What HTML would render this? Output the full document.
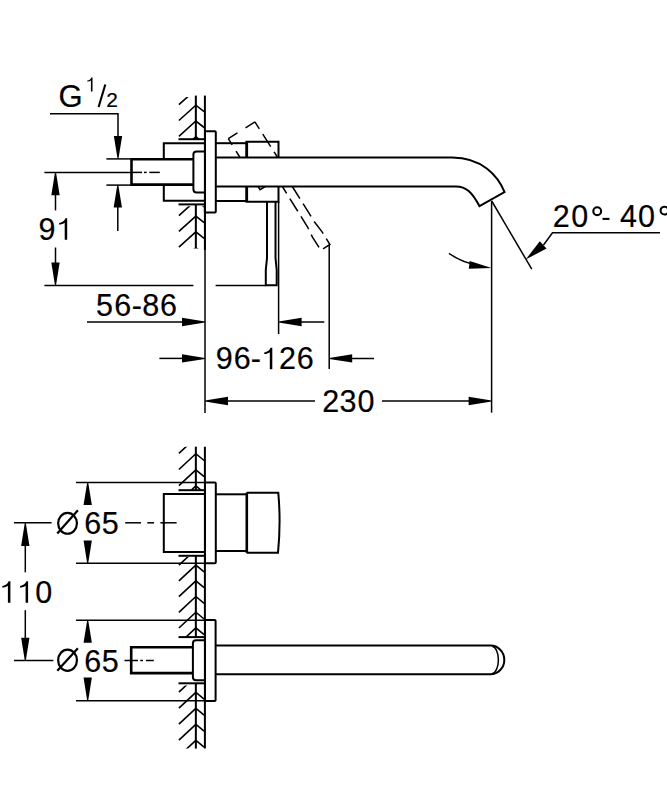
<!DOCTYPE html>
<html><head><meta charset="utf-8">
<style>
html,body{margin:0;padding:0;background:#fff;}
svg{display:block;}
text{font-family:"Liberation Sans",sans-serif;fill:#000;}
</style></head>
<body>
<svg width="667" height="800" viewBox="0 0 667 800">
<defs>
<clipPath id="h1"><rect x="170" y="97.0" width="34.2" height="42.2"/></clipPath>
<clipPath id="h2"><rect x="170" y="206.2" width="34.2" height="42.3"/></clipPath>
<clipPath id="h3"><rect x="170" y="446.7" width="34.2" height="43.5"/></clipPath>
<clipPath id="h4"><rect x="170" y="557.0" width="34.2" height="80.1"/></clipPath>
<clipPath id="h5"><rect x="170" y="685.5" width="34.2" height="63.1"/></clipPath>
</defs>
<g fill="none" stroke="#000" stroke-linecap="butt">
<!-- ================= TOP DRAWING ================= -->
<!-- thin dimension lines -->
<g stroke-width="1.5">
<polyline points="50,113.8 118,113.8 118,140"/>
<line x1="106.4" y1="158.9" x2="131" y2="158.9"/>
<line x1="106.4" y1="185.1" x2="131" y2="185.1"/>
<line x1="117.8" y1="200" x2="117.8" y2="231"/>
<line x1="44.4" y1="172.4" x2="131" y2="172.4"/>
<line x1="55.5" y1="190" x2="55.5" y2="210.4"/>
<line x1="55.5" y1="247.5" x2="55.5" y2="270"/>
<line x1="44.4" y1="285.5" x2="193.4" y2="285.5"/>
<line x1="215.6" y1="285.5" x2="266" y2="285.5"/>
<line x1="87" y1="322" x2="190" y2="322"/>
<line x1="205" y1="212" x2="205" y2="413"/>
<line x1="278.6" y1="201.7" x2="278.6" y2="334"/>
<line x1="290" y1="322" x2="324.3" y2="322"/>
<line x1="329.2" y1="245" x2="329.2" y2="369"/>
<line x1="159.4" y1="358.4" x2="190" y2="358.4"/>
<line x1="340" y1="358.4" x2="374" y2="358.4"/>
<line x1="215" y1="401" x2="315" y2="401"/>
<line x1="382" y1="401" x2="480" y2="401"/>
<line x1="491.6" y1="201" x2="491.6" y2="412.6"/>
<line x1="491.7" y1="201" x2="531.8" y2="269.2"/>
<path d="M449,253.4 A66.5,66.5 0 0 0 478,265"/>
<polyline points="543.5,245 552.5,232.7 660,232.7"/>
</g>
</g>
<!-- thick outlines top -->
<g clip-path="url(#h1)" fill="none" stroke="#000" stroke-width="1.6"><polyline points="178.9,104.7 195.85,89.4 204.1,95.9"/><polyline points="178.9,120.5 195.85,105.2 204.1,111.7"/><polyline points="178.9,136.3 195.85,121.0 204.1,127.5"/><polyline points="178.9,152.1 195.85,136.8 204.1,143.3"/></g>
<g clip-path="url(#h2)" fill="none" stroke="#000" stroke-width="1.6"><polyline points="178.9,215.6 195.85,200.3 204.1,206.8"/><polyline points="178.9,231.4 195.85,216.1 204.1,222.6"/><polyline points="178.9,247.2 195.85,231.9 204.1,238.4"/><polyline points="178.9,263.0 195.85,247.7 204.1,254.2"/></g>
<g clip-path="url(#h3)" fill="none" stroke="#000" stroke-width="1.6"><polyline points="178.9,453.4 195.85,437.6 204.1,444.4"/><polyline points="178.9,469.5 195.85,453.7 204.1,460.5"/><polyline points="178.9,485.6 195.85,469.8 204.1,476.6"/><polyline points="178.9,501.7 195.85,485.9 204.1,492.7"/></g>
<g clip-path="url(#h4)" fill="none" stroke="#000" stroke-width="1.6"><polyline points="178.9,565.2 195.85,549.4 204.1,556.2"/><polyline points="178.9,580.9 195.85,565.1 204.1,571.9"/><polyline points="178.9,596.6 195.85,580.8 204.1,587.6"/><polyline points="178.9,612.3 195.85,596.5 204.1,603.3"/><polyline points="178.9,628.0 195.85,612.2 204.1,619.0"/><polyline points="178.9,643.7 195.85,627.9 204.1,634.7"/><polyline points="178.9,659.4 195.85,643.6 204.1,650.4"/></g>
<g clip-path="url(#h5)" fill="none" stroke="#000" stroke-width="1.6"><polyline points="178.9,692.1 195.85,676.3 204.1,683.1"/><polyline points="178.9,708.1 195.85,692.3 204.1,699.1"/><polyline points="178.9,724.1 195.85,708.3 204.1,715.1"/><polyline points="178.9,740.1 195.85,724.3 204.1,731.1"/><polyline points="178.9,756.1 195.85,740.3 204.1,747.1"/><polyline points="178.9,772.1 195.85,756.3 204.1,763.1"/></g>
<g fill="none" stroke="#000" stroke-width="2" stroke-linejoin="miter">
<!-- wall upper -->
<line x1="195.85" y1="95.6" x2="195.85" y2="139"/>
<line x1="204.9" y1="95.6" x2="204.9" y2="212"/>
<line x1="178.5" y1="139.2" x2="204.9" y2="139.2"/>
<!-- wall lower -->
<line x1="195.85" y1="204.4" x2="195.85" y2="248"/>
<line x1="204.9" y1="204" x2="204.9" y2="250"/>
<line x1="178.5" y1="204.4" x2="204.9" y2="204.4"/>
<!-- body -->
<polyline points="205,143.2 163.8,143.2 163.8,159.3"/>
<polyline points="205,200.8 163.8,200.8 163.8,184.7"/>
<path d="M205,151.4 H196.6 Q193.4,151.4 193.4,154.6 V189.2 Q193.4,192.4 196.6,192.4 H205"/>
<rect x="205" y="131.3" width="10.8" height="81.1" rx="1"/>
<line x1="215.8" y1="143.2" x2="246.5" y2="143.2"/>
<line x1="215.8" y1="201" x2="246.5" y2="201"/>
<polyline points="246.5,157.5 246.5,141.7 278.5,141.7 278.5,157.5"/>
<polyline points="246.5,186.4 246.5,201.7 278.5,201.7 278.5,186.4"/>
<path d="M215.8,157.5 H452.2 C482,157.5 498,176 504.5,192 L479.5,206.2 C472,192 466,186.4 456,186.4 H215.8"/>
<path d="M267,201.7 V258 L265.8,270 V285.3 H276.7 V270 L275.5,258 V201.7"/>
</g>
<g fill="none" stroke="#000" stroke-width="2.6">
<polyline points="193.5,159.3 131.5,159.3 131.5,184.6 193.5,184.6"/>
<line x1="246.8" y1="141.7" x2="246.8" y2="157.5"/>
<line x1="246.8" y1="186.4" x2="246.8" y2="201.7"/>
</g>
<g fill="none" stroke="#000" stroke-width="1.5">
<line x1="131" y1="172.4" x2="142" y2="172.4"/>
<line x1="144" y1="172.4" x2="146.7" y2="172.4"/>
<line x1="149.3" y1="172.4" x2="159.8" y2="172.4"/>
</g>
<!-- dashed rotated handle -->
<g fill="none" stroke="#000" stroke-width="1.5">
<polyline points="228.3,138.7 254.9,121.9" stroke-dasharray="10.8,9.6,12"/>
<polyline points="254.9,121.9 277.7,157.5" stroke-dasharray="8.2,6.4,14.7,6.2,20"/>
<polyline points="228.3,138.7 240,157.5" stroke-dasharray="7.3,7.4,10"/>
<polyline points="258.1,186.5 260.1,189.7 265.2,186.5"/>
<polyline points="282.3,186.5 307.3,226.5 312.6,237.4 320.9,250.3 329.9,244.5 321.9,231.6 314.5,222 292.3,186.5" stroke-dasharray="15,6" stroke-dashoffset="6.8"/>
</g>
<!-- arrowheads -->
<g fill="#000" stroke="none">
<polygon points="117.50,158.50 113.85,136.00 122.15,136.00 118.50,158.50"/>
<polygon points="118.30,185.10 121.95,207.60 113.65,207.60 117.30,185.10"/>
<polygon points="56.00,172.20 59.65,195.20 51.35,195.20 55.00,172.20"/>
<polygon points="55.00,285.50 51.35,262.50 59.65,262.50 56.00,285.50"/>
<polygon points="205.00,322.50 182.00,326.15 182.00,317.85 205.00,321.50"/>
<polygon points="278.60,321.50 301.60,317.85 301.60,326.15 278.60,322.50"/>
<polygon points="205.00,358.90 182.00,362.55 182.00,354.25 205.00,357.90"/>
<polygon points="329.20,357.90 352.20,354.25 352.20,362.55 329.20,358.90"/>
<polygon points="205.00,400.50 228.00,396.85 228.00,405.15 205.00,401.50"/>
<polygon points="491.60,401.50 468.60,405.15 468.60,396.85 491.60,400.50"/>
<polygon points="491.6,268 469.7,261 468.8,268.8"/>
<polygon points="525.7,259.5 539.8,241.3 546.5,248.5"/>
</g>
<!-- text -->
<!-- ================= BOTTOM DRAWING ================= -->
<g fill="none" stroke="#000" stroke-width="2">
<line x1="195.85" y1="446.7" x2="195.85" y2="490.2"/>
<line x1="195.85" y1="555.8" x2="195.85" y2="637.1"/>
<line x1="195.85" y1="683.3" x2="195.85" y2="748.6"/>
<line x1="204.9" y1="446.7" x2="204.9" y2="748.6"/>
<line x1="178.5" y1="490.2" x2="204.9" y2="490.2"/>
<line x1="178.5" y1="555.8" x2="204.9" y2="555.8"/>
<line x1="178.5" y1="637.1" x2="204.9" y2="637.1"/>
<line x1="178.5" y1="683.3" x2="204.9" y2="683.3"/>
<polyline points="205,494 163.8,494 163.8,552 205,552"/>
<rect x="205" y="482.5" width="10.8" height="80.7" rx="1"/>
<line x1="215.8" y1="494.3" x2="246.5" y2="494.3"/>
<line x1="215.8" y1="551" x2="246.5" y2="551"/>
<path d="M246.5,492.8 H278.3 Q281,522.8 278,552.8 H246.5"/>
<rect x="205" y="620" width="10.6" height="81" rx="1"/>
<path d="M205,640.2 H196.1 Q192.9,640.2 192.9,643.4 V677.1 Q192.9,680.3 196.1,680.3 H205"/>
<path d="M215.6,645.6 H490.5 A13.8,14.3 0 0 1 490.5,674.2 H215.6"/>
<path d="M492.4,646.2 A6.8,13.8 0 0 1 492.4,673.6" stroke-width="1.5"/>
</g>
<g fill="none" stroke="#000" stroke-width="2.6">
<line x1="246.8" y1="492.8" x2="246.8" y2="552.8"/>
<polyline points="192.9,647.3 131.2,647.3 131.2,673.1 192.9,673.1"/>
</g>
<g fill="none" stroke="#000" stroke-width="1.5">
<line x1="76" y1="482.4" x2="205" y2="482.4"/>
<line x1="76" y1="563.2" x2="205" y2="563.2"/>
<line x1="76" y1="620.2" x2="205" y2="620.2"/>
<line x1="76" y1="700.8" x2="205" y2="700.8"/>
<line x1="14" y1="522.8" x2="51.6" y2="522.8"/>
<line x1="125.2" y1="522.8" x2="141" y2="522.8"/>
<line x1="147.3" y1="522.8" x2="154.1" y2="522.8"/>
<line x1="160.4" y1="522.8" x2="176.6" y2="522.8"/>
<line x1="14" y1="660.5" x2="53.4" y2="660.5"/>
<line x1="124.5" y1="660.5" x2="138" y2="660.5"/>
<line x1="140.2" y1="660.5" x2="143" y2="660.5"/>
<line x1="146" y1="660.5" x2="153.8" y2="660.5"/>
<line x1="25.3" y1="540" x2="25.3" y2="572.3"/>
<line x1="25.3" y1="610.2" x2="25.3" y2="641"/>
</g>
<g fill="#000" stroke="none">
<polygon points="88.20,482.40 91.85,505.00 83.55,505.00 87.20,482.40"/>
<polygon points="87.20,563.20 83.55,540.60 91.85,540.60 88.20,563.20"/>
<polygon points="88.20,620.20 91.85,642.80 83.55,642.80 87.20,620.20"/>
<polygon points="87.20,700.80 83.55,677.40 91.85,677.40 88.20,700.80"/>
<polygon points="25.80,522.80 29.45,546.00 21.15,546.00 24.80,522.80"/>
<polygon points="24.80,660.50 21.15,637.80 29.45,637.80 25.80,660.50"/>
</g>
<g font-family="Liberation Sans" font-size="30.5" fill="#000" stroke="#000" stroke-width="0.2">
<text x="58.55" y="106.8" font-size="31">G</text>
<text x="38.44" y="239.8">9</text>
<text x="95.99" y="316.1">5</text>
<text x="114.21" y="316.1">6</text>
<text x="131.74" y="316.1">-</text>
<text x="142.31" y="316.1">8</text>
<text x="160.01" y="316.1">6</text>
<text x="215.69" y="369.3">9</text>
<text x="233.81" y="369.3">6</text>
<text x="250.74" y="369.3">-</text>
<text x="279.09" y="369.3">2</text>
<text x="296.76" y="369.3">6</text>
<text x="322.14" y="412.4">2</text>
<text x="339.51" y="412.4">3</text>
<text x="357.44" y="412.4">0</text>
<text x="35.14" y="602.8">0</text>
<text x="84.21" y="534.4">6</text>
<text x="101.74" y="534.4">5</text>
<text x="84.21" y="671.5">6</text>
<text x="101.74" y="671.5">5</text>
<text x="552.79" y="227.1">2</text>
<text x="571.24" y="227.1">0</text>
<text x="620.01" y="227.1">4</text>
<text x="637.99" y="227.1">0</text>
<text transform="translate(112 106.7) scale(1.06 1)" x="-5.47" y="0" font-size="19.7">2</text>
</g>
<g fill="#000" stroke="none">
<path transform="translate(64.70 239.80) scale(1.000)" d="M0,0 H2.5 V-21.6 H0.7 C0.3,-19.4 -2.4,-17.3 -5.6,-16.9 V-15.2 C-3.4,-15.3 -1.3,-15.9 0,-17 Z"/>
<path transform="translate(269.80 369.30) scale(1.000)" d="M0,0 H2.5 V-21.6 H0.7 C0.3,-19.4 -2.4,-17.3 -5.6,-16.9 V-15.2 C-3.4,-15.3 -1.3,-15.9 0,-17 Z"/>
<path transform="translate(7.90 602.80) scale(1.000)" d="M0,0 H2.5 V-21.6 H0.7 C0.3,-19.4 -2.4,-17.3 -5.6,-16.9 V-15.2 C-3.4,-15.3 -1.3,-15.9 0,-17 Z"/>
<path transform="translate(25.60 602.80) scale(1.000)" d="M0,0 H2.5 V-21.6 H0.7 C0.3,-19.4 -2.4,-17.3 -5.6,-16.9 V-15.2 C-3.4,-15.3 -1.3,-15.9 0,-17 Z"/>
<path transform="translate(90.9 91.5) scale(0.65)" d="M0,0 H2.5 V-21.6 H0.7 C0.3,-19.4 -2.4,-17.3 -5.6,-16.9 V-15.2 C-3.4,-15.3 -1.3,-15.9 0,-17 Z"/>
</g>

<g fill="none" stroke="#000" stroke-width="2.1">
<circle cx="597.2" cy="211.2" r="3.9"/>
<circle cx="664.5" cy="210.6" r="3.9"/>
<line x1="602.5" y1="218.9" x2="609.5" y2="218.9"/>
<line x1="98.6" y1="107" x2="105.3" y2="84.5"/>
<ellipse cx="67.55" cy="523.3" rx="9.4" ry="10.45" stroke-width="2.2"/>
<line x1="57.3" y1="533.5" x2="77.9" y2="510.2" stroke-width="2.2"/>
<ellipse cx="67.55" cy="660.2" rx="9.4" ry="10.6" stroke-width="2.2"/>
<line x1="57.3" y1="670.7" x2="77.9" y2="648.3" stroke-width="2.2"/>
</g>
</svg>
</body></html>
